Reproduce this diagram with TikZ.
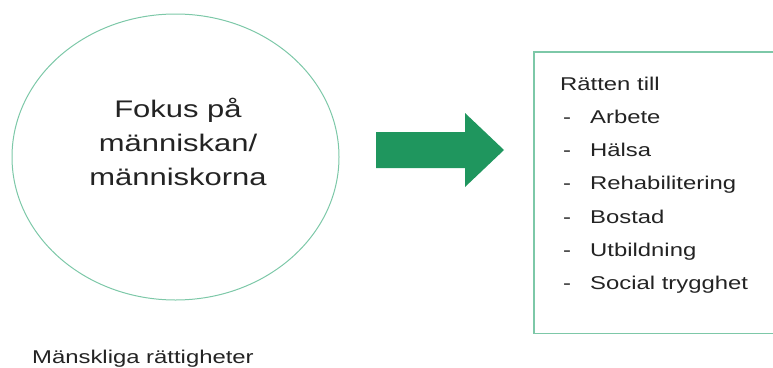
\documentclass[tikz,border=0pt]{standalone}
\usepackage{fontspec}
\setmainfont{Liberation Sans}[FakeStretch=1.29]
\usepackage{tikz}
\usetikzlibrary{positioning,shapes.geometric}
\definecolor{lightgreen}{RGB}{125,200,168}
\definecolor{arrowgreen}{RGB}{31,150,94}
\definecolor{textgray}{RGB}{35,35,35}

\begin{document}
\begin{tikzpicture}[x=1pt,y=-1pt,
    bigtext/.style={font=\fontsize{24}{34}\selectfont, text=textgray, align=center},
    listtext/.style={font=\fontsize{18.5}{33}\selectfont, text=textgray, inner sep=0pt, anchor=base west}]
      \useasboundingbox (0,0) rectangle (773,367);
      \clip (0,0) rectangle (773,367);
      % Define nodes
      \node[ellipse, draw=lightgreen, line width=1pt, minimum width=327pt, minimum height=286pt] (fokus) at (175.5,157) {};
      \node[bigtext] (fokustext) at (178,142) {Fokus på\\människan/\\människorna};
      \node[listtext] (mr) at (32,363) {Mänskliga rättigheter};
      \node[anchor=north west, minimum width=330pt, minimum height=281pt] (rights) at (534,52) {};
      \node[listtext] (title) at (560,90) {Rätten till};
      \node[listtext] (i1) at (563,123.3) {\makebox[27pt][l]{-}Arbete};
      \node[listtext] (i2) at (563,156.6) {\makebox[27pt][l]{-}Hälsa};
      \node[listtext] (i3) at (563,189.9) {\makebox[27pt][l]{-}Rehabilitering};
      \node[listtext] (i4) at (563,223.2) {\makebox[27pt][l]{-}Bostad};
      \node[listtext] (i5) at (563,256.5) {\makebox[27pt][l]{-}Utbildning};
      \node[listtext] (i6) at (563,289.8) {\makebox[27pt][l]{-}Social trygghet};

      % Draw box (right side runs off the page)
      \draw[lightgreen, line width=1.2pt] (rights.north east) -- (rights.north west) -- (rights.south west) -- (rights.south east);

      % Draw arrow
      \fill[arrowgreen] (376,132) -- (465,132) -- (465,113) -- (504,150) -- (465,187) -- (465,168) -- (376,168) -- cycle;
\end{tikzpicture}
\end{document}
